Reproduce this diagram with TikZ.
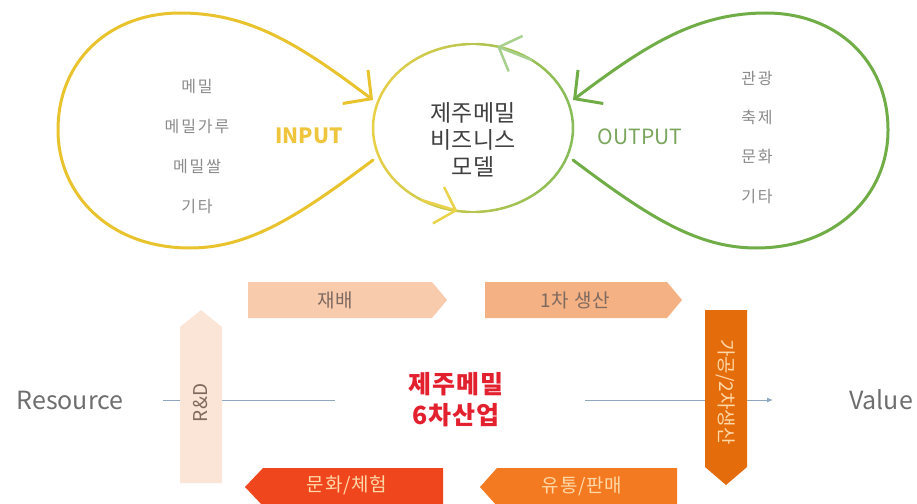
\documentclass[tikz,border=0pt]{standalone}
\usepackage{fontspec}
\setmainfont{Noto Sans CJK KR}
\usetikzlibrary{arrows.meta}
\definecolor{yline}{HTML}{E9C32E}
\definecolor{gline}{HTML}{70AD47}
\definecolor{cy}{HTML}{E8CF48}
\definecolor{cg}{HTML}{86BC58}
\definecolor{toparr}{HTML}{A8D08D}
\definecolor{botarr}{HTML}{EAD24A}
\definecolor{intxt}{HTML}{EFC53E}
\definecolor{outtxt}{HTML}{7AA55C}
\definecolor{listgray}{HTML}{8A8A8A}
\definecolor{darktxt}{HTML}{404040}
\definecolor{peachA}{HTML}{F8CBAD}
\definecolor{peachB}{HTML}{F4B183}
\definecolor{peachC}{HTML}{FBE5D6}
\definecolor{orgA}{HTML}{E46C0A}
\definecolor{orgB}{HTML}{F47A22}
\definecolor{orgC}{HTML}{F0461E}
\definecolor{redtxt}{HTML}{E3202E}
\definecolor{hline}{HTML}{8EA8C0}
\definecolor{boxtxt}{HTML}{7F6A60}
\definecolor{lighttxt}{HTML}{FFD8A8}
\definecolor{axistxt}{HTML}{6E6E6E}
\begin{document}
\begin{tikzpicture}[x=1pt,y=-1pt,
  loopline/.style={line width=3pt,line cap=round},
  tiparrow/.style={-{Straight Barb[length=20pt,width=42pt]}},
  circarrow/.style={line width=2.5pt,-{Straight Barb[length=18pt,width=38pt]}},
  listtxt/.style={font=\fontsize{16}{18}\selectfont\addfontfeatures{LetterSpace=12}, text=listgray},
  btxt/.style={font=\fontsize{19}{21}\selectfont\addfontfeatures{LetterSpace=4}},
  hl/.style={draw=hline,line width=1pt}]
\useasboundingbox (0,0) rectangle (917,503);
\clip (0,0) rectangle (917,503);

% left teardrop (INPUT)
\draw[loopline, draw=yline, tiparrow] (373,160) .. controls (300,215) and (250,248) .. (190,248)
  .. controls (110,248) and (58,195) .. (58,130)
  .. controls (58,60) and (110,13) .. (180,13)
  .. controls (250,13) and (300,45) .. (373,100);
% right teardrop (OUTPUT)
\draw[loopline, draw=gline, tiparrow] (573,160) .. controls (646,215) and (696,248) .. (756,248)
  .. controls (836,248) and (888,195) .. (888,130)
  .. controls (888,60) and (836,13) .. (766,13)
  .. controls (696,13) and (646,45) .. (573,100);

% centre ellipse with yellow-to-green colour
\foreach \t in {0,4,...,356}{
  \pgfmathtruncatemacro\g{50+50*cos(\t+2)}
  \draw[line width=2.5pt, line cap=round, draw=cg!\g!cy]
    ({473+100*cos(\t)},{128-84*sin(\t)}) -- ({473+100*cos(\t+4)},{128-84*sin(\t+4)});
}
\coordinate (ta1) at ({473+100*cos(54)},{128-84*sin(54)});
\coordinate (ta2) at ({473+100*cos(76)},{128-84*sin(76)});
\coordinate (ba1) at ({473+100*cos(239)},{128-84*sin(239)});
\coordinate (ba2) at ({473+100*cos(261)},{128-84*sin(261)});
\draw[circarrow, draw=toparr] (ta1) -- (ta2);
\draw[circarrow, draw=botarr] (ba1) -- (ba2);

\node[font=\fontsize{23}{27}\selectfont, text=darktxt, align=center] (bm) at (473,140) {제주메밀\\비즈니스\\모델};
\node[font=\fontsize{21}{24}\selectfont\bfseries, text=intxt] (in) at (309,136) {INPUT};
\node[font=\fontsize{21}{24}\selectfont, text=outtxt] (out) at (640,137) {OUTPUT};

\node[listtxt] (l1) at (197,87) {메밀};
\node[listtxt] (l2) at (197,127) {메밀가루};
\node[listtxt] (l3) at (197,167) {메밀쌀};
\node[listtxt] (l4) at (197,207) {기타};
\node[listtxt] (r1) at (757,78) {관광};
\node[listtxt] (r2) at (757,117) {축제};
\node[listtxt] (r3) at (757,157) {문화};
\node[listtxt] (r4) at (757,197) {기타};

% axis line (behind the arrows)
\coordinate (h1) at (163,400);
\coordinate (h2) at (180,400);
\coordinate (h3) at (222,400);
\coordinate (h4) at (335,400);
\coordinate (h5) at (585,400);
\coordinate (h6) at (773,400);
\draw[hl] (h1) -- (h2);
\draw[hl] (h3) -- (h4);
\draw[hl, -{Latex[length=6pt,width=5pt]}] (h5) -- (h6);

% bottom part: process arrows
\fill[peachA] (248,282) -- (432,282) -- (447,300) -- (432,318) -- (248,318) -- cycle;
\node[btxt, text=boxtxt] (jb) at (335,300) {재배};
\fill[peachB] (485,282) -- (667,282) -- (682,300) -- (667,318) -- (485,318) -- cycle;
\node[btxt, text=boxtxt] (p1) at (575,300) {1차 생산};
\fill[peachC] (180,483) -- (180,327) -- (201,310) -- (222,327) -- (222,483) -- cycle;
\node[btxt, text=boxtxt, rotate=90] (rd) at (201,403) {R\&D};
\fill[orgA] (705,310) -- (747,310) -- (747,467) -- (726,485) -- (705,467) -- cycle;
\node[font=\fontsize{19}{21}\selectfont, text=lighttxt, rotate=-90] (p2) at (726,392) {가공/2차생산};
\fill[orgB] (480,487) -- (497,468) -- (677,468) -- (677,506) -- (497,506) -- cycle;
\node[btxt, text=lighttxt] (ut) at (582,486) {유통/판매};
\fill[orgC] (245,487) -- (263,468) -- (443,468) -- (443,506) -- (263,506) -- cycle;
\node[btxt, text=lighttxt] (mh) at (347,485) {문화/체험};

\node[font=\fontsize{25}{28}\selectfont, text=axistxt] (res) at (70,400) {Resource};
\node[font=\fontsize{25}{28}\selectfont, text=axistxt] (val) at (881,400) {Value};
\node[font=\fontsize{25}{31}\selectfont\bfseries\addfontfeatures{LetterSpace=4}, text=redtxt, align=center] (six) at (456,400) {제주메밀\\6차산업};
\end{tikzpicture}
\end{document}
